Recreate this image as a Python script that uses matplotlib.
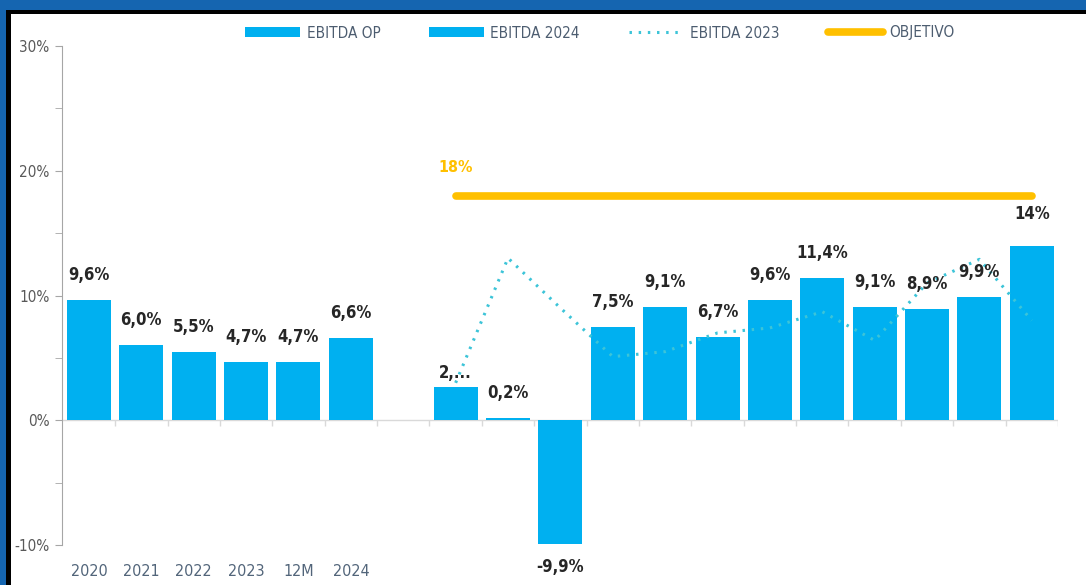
import numpy as np
import matplotlib.pyplot as plt
from matplotlib.patches import Rectangle

plt.rcParams['font.family'] = ['DejaVu Sans']
plt.rcParams['font.stretch'] = 'condensed'

# annual block + one empty slot + 12 months (month labels are not shown)
years = ['2020', '2021', '2022', '2023', '12M', '2024']
ebitda_op = [9.6, 6.0, 5.5, 4.7, 4.7, 6.6]
ebitda_2024 = [2.7, 0.2, -9.9, 7.5, 9.1, 6.7, 9.6, 11.4, 9.1, 8.9, 9.9, 14.0]
labels_2024 = ['2,...', '0,2%', '-9,9%', '7,5%', '9,1%', '6,7%', '9,6%', '11,4%',
               '9,1%', '8,9%', '9,9%', '14%']
ebitda_2023 = [3.0, 13.0, 9.0, 5.1, 5.5, 7.0, 7.4, 8.7, 6.4, 11.0, 12.9, 8.0]
objetivo = [18] * 12

BLUE = '#00b0f0'
DOT = '#3cc4d8'
GOLD = '#ffc000'

x_op = np.arange(len(years))
x_m = np.arange(len(ebitda_2024)) + len(years) + 1

fig = plt.figure(figsize=(10.86, 5.85), dpi=100, facecolor='#1565b0')
W, H = 1086, 585
fig.patches.append(Rectangle((6 / W, 0), 1, (H - 10) / H, transform=fig.transFigure,
                             facecolor='black', edgecolor='none', zorder=-2))
fig.patches.append(Rectangle((10.5 / W, 0), 1, (H - 14) / H, transform=fig.transFigure,
                             facecolor='white', edgecolor='none', zorder=-1))

ax = fig.add_axes([62 / W, 40 / H, (1058 - 62) / W, (545 - 46) / H])
ax.set_facecolor('none')

b_op = ax.bar(x_op, ebitda_op, width=0.84, color=BLUE, label='EBITDA OP')
b_24 = ax.bar(x_m, ebitda_2024, width=0.84, color=BLUE, label='EBITDA 2024')
l_23, = ax.plot(x_m, ebitda_2023, color=DOT, lw=2.2, linestyle=(0, (0.8, 2.2)),
                label='EBITDA 2023')
l_obj, = ax.plot(x_m, objetivo, color=GOLD, lw=5.5, solid_capstyle='round',
                 label='OBJETIVO')

# data labels
for xi, v in zip(x_op, ebitda_op):
    ax.annotate(f'{v:.1f}'.replace('.', ',') + '%', (xi, v), xytext=(0, 18),
                textcoords='offset points', ha='center', va='center',
                fontsize=12, fontweight='bold', color='#262626')
for i, (xi, v, t) in enumerate(zip(x_m, ebitda_2024, labels_2024)):
    dy = 18 if v >= 0 else -17
    if i == 0:
        dy = 10
    if i == len(ebitda_2024) - 1:
        dy = 23
    ax.annotate(t, (xi, v), xytext=(0, dy), textcoords='offset points',
                ha='center', va='center', fontsize=12, fontweight='bold',
                color='#262626')
ax.annotate('18%', (x_m[0], objetivo[0]), xytext=(0, 20), textcoords='offset points',
            ha='center', va='center', fontsize=11.5, fontweight='bold', color=GOLD)

# axes styling
ax.set_ylim(-10, 30)
ax.set_xlim(-0.515, 18.5)
ax.set_yticks([-10, 0, 10, 20, 30])
ax.set_yticklabels(['-10%', '0%', '10%', '20%', '30%'])
ax.set_yticks([-5, 5, 15, 25], minor=True)
ax.tick_params(axis='y', which='both', length=5, color='#a6a6a6', labelsize=11,
               labelcolor='#595959', pad=4)
ax.set_xticks(x_op)
ax.set_xticklabels(years)
ax.tick_params(axis='x', length=0, labelsize=11.5, labelcolor='#52657a', pad=14)
for s in ['top', 'right', 'bottom']:
    ax.spines[s].set_visible(False)
ax.spines['left'].set_color('#a6a6a6')
ax.axhline(0, color='#d9d9d9', lw=1, zorder=0)
ax.vlines(np.arange(19) + 0.5, -0.45, 0, color='#d9d9d9', lw=1, zorder=0)

fig.legend(handles=[b_op, b_24, l_23, l_obj], loc='center', ncol=4,
           bbox_to_anchor=(600 / W, 1 - 33 / H), frameon=False, fontsize=11,
           labelcolor='#4d5d70', handlelength=3.6, handleheight=0.55,
           columnspacing=3.2, handletextpad=0.4)

fig.savefig('out.png', dpi=100, facecolor=fig.get_facecolor())
